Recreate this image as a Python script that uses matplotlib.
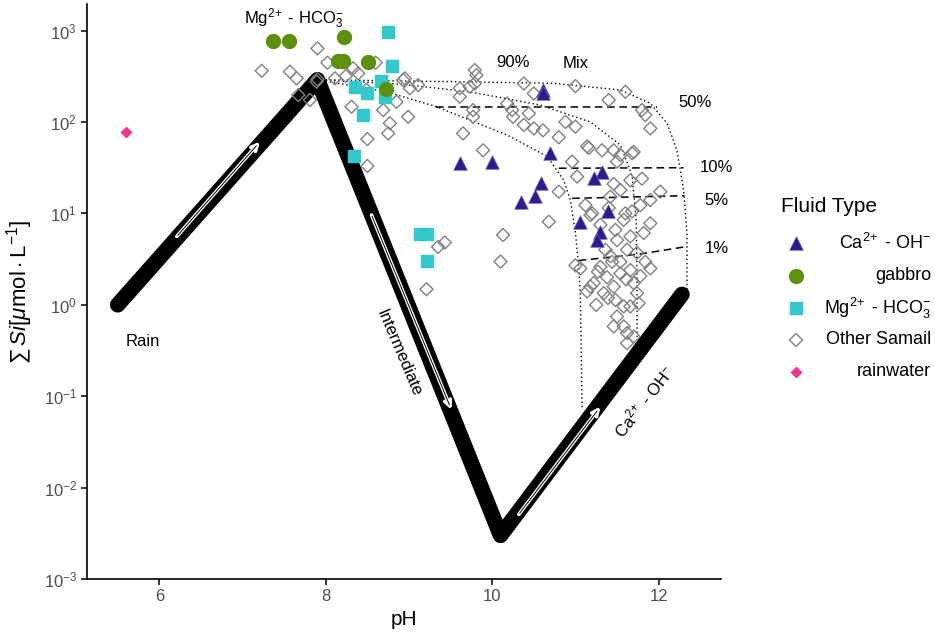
import matplotlib
matplotlib.use("Agg")
import matplotlib.pyplot as plt
from matplotlib.ticker import FixedLocator, NullLocator, LogFormatterSciNotation

plt.rcParams['font.family'] = ['Liberation Sans', 'DejaVu Sans']
plt.rcParams['mathtext.fontset'] = 'custom'
plt.rcParams['mathtext.rm'] = 'Liberation Sans'
plt.rcParams['mathtext.it'] = 'Liberation Sans:italic'
plt.rcParams['mathtext.bf'] = 'Liberation Sans:bold'

# reaction path (thick black line)
path_ph = [5.5, 7.9, 10.1, 12.28]
path_si = [1.0, 290, 0.003, 1.3]

# arrows along the path (tail, head)
arrow_tail_ph = [6.21, 8.55, 10.32]
arrow_tail_si = [5.6, 9.6, 0.0051]
arrow_head_ph = [7.21, 9.51, 11.30]
arrow_head_si = [61, 0.071, 0.077]

# mixing curves (dotted)
mixA_ph = [7.9, 8.73, 9.33, 9.53, 10.18, 10.66, 10.86, 10.94, 11.0, 11.04, 11.06, 11.08]
mixA_si = [290, 214, 147, 124, 72, 42, 23, 14, 6.1, 2.6, 1.13, 0.071]
mixB_ph = [7.9, 8.89, 9.74, 10.58, 11.18, 11.54, 11.68, 11.73, 11.74, 11.74]
mixB_si = [290, 260, 213, 153, 100, 56, 26, 8.5, 1.9, 0.41]
mixC_ph = [7.9, 9.53, 10.74, 11.54, 11.90, 12.10, 12.22, 12.30, 12.34, 12.34]
mixC_si = [290, 276, 265, 224, 160, 97, 49, 18, 6.1, 1.46]

# equal-fraction lines (dashed)
d50_ph = [9.33, 11.98]
d50_si = [147, 147]
d10_ph = [10.80, 12.30]
d10_si = [31.2, 31.6]
d05_ph = [10.96, 12.31]
d05_si = [14.6, 15.6]
d01_ph = [11.04, 11.78, 12.34]
d01_si = [3.05, 3.6, 4.34]

# samples
ca_ph = [10.61, 10.61, 9.61, 10.0, 10.69, 11.32, 11.22, 10.59, 10.51, 10.35, 11.39, 11.05, 11.29, 11.26]
ca_si = [224, 205, 35.9, 36.8, 45.5, 28.6, 24.3, 21.4, 15.5, 13.3, 10.5, 8.1, 6.2, 5.1]

gab_ph = [7.37, 7.56, 8.22, 8.15, 8.21, 8.51, 8.72]
gab_si = [767, 767, 855, 464, 464, 455, 229]

mg_ph = [8.75, 8.79, 8.35, 8.66, 8.49, 8.71, 8.45, 8.34, 9.13, 9.22, 9.22]
mg_si = [955, 412, 240, 283, 205, 190, 119, 42.9, 5.96, 5.96, 3.05]

other_ph = [7.23, 7.57, 7.65, 7.67, 7.81, 7.89, 8.02, 7.90, 7.90, 8.11, 8.24, 8.39, 8.60,
            8.31, 8.49, 8.69, 8.85, 8.77, 8.75, 8.99, 8.50, 8.50, 8.93, 9.01, 9.11, 8.33,
            8.95, 9.73,
            9.61, 9.61, 9.79, 9.81, 9.79, 9.77, 9.77, 9.65, 9.89, 10.18, 10.25, 10.38, 10.50,
            11.0, 11.60, 11.40, 11.80, 11.84, 11.90, 10.24, 10.44, 10.38, 10.50, 10.61, 10.88,
            11.0, 10.80, 11.16, 11.32, 11.54, 11.70, 10.96, 11.50, 11.02, 10.80, 10.68, 10.13,
            10.10, 9.35, 9.43, 9.21, 11.20, 12.02, 11.90, 11.80, 11.66, 11.54, 11.46, 11.42,
            11.68, 11.58, 11.90, 11.82, 11.66, 11.50, 11.62, 11.74, 11.42, 11.90, 11.0, 11.06,
            11.30, 11.38, 11.54, 11.70, 11.22, 11.46, 11.14, 11.34, 11.74, 11.18, 11.58, 11.66,
            11.50, 11.76, 11.46, 11.58, 11.62, 11.70, 11.62, 11.14, 11.46, 11.68,
            11.36, 11.44, 11.54, 11.27, 11.61, 11.39, 11.48, 11.25, 11.66, 11.78, 11.84, 11.30,
            11.48, 11.60, 11.40, 11.78, 11.18, 11.12]
other_si = [363, 355, 300, 197, 174, 276, 445, 638, 293, 300, 318, 340, 445,
            147, 224, 135, 166, 97, 75, 114, 65, 33, 288, 234, 253, 387,
            300, 243,
            234, 189, 370, 325, 264, 135, 114, 75, 49, 159, 114, 264, 205,
            247, 214, 174, 135, 119, 85, 135, 124, 93, 85, 81, 100,
            89, 68, 52, 49, 43.5, 47, 36.8, 36.8, 25.3, 17.3, 8.1, 5.8,
            2.97, 4.3, 4.8, 1.48, 10, 17.3, 14, 24, 23, 18, 21, 15.2,
            10.5, 8.5, 7.8, 6.1, 5.6, 5.1, 4.0, 3.7, 3.4, 2.5, 2.7, 2.5,
            2.6, 2.0, 2.2, 1.73, 1.73, 1.58, 1.4, 1.34, 1.34, 1.58, 0.96, 0.96,
            0.745, 1.04, 0.58, 0.58, 0.49, 0.45, 0.38, 54, 49, 45.5,
            4.0, 2.95, 2.95, 2.3, 1.9, 1.19, 1.13, 1.0, 2.4, 2.07, 2.95, 7.5,
            6.6, 10, 11.5, 12.3, 9.6, 12.3]

rain_ph = [5.60]
rain_si = [78]

CA_LABEL = r'Ca$^{2\!+}$ - OH$^{-}$'
MG_LABEL = r'Mg$^{2\!+}$ - HCO$_3^{-}$'

fig = plt.figure(figsize=(9.35, 6.36), dpi=100)
ax = fig.add_axes([0.0934, 0.0896, 0.6778, 0.904])

ax.plot(path_ph, path_si, color='black', lw=11.2, solid_capstyle='round',
        solid_joinstyle='round', zorder=2)

for i in range(3):
    ax.annotate('', xy=(arrow_head_ph[i], arrow_head_si[i]),
                xytext=(arrow_tail_ph[i], arrow_tail_si[i]),
                arrowprops=dict(arrowstyle='->,head_length=0.45,head_width=0.22',
                                color='white', lw=2.6, shrinkA=0, shrinkB=0),
                zorder=3)
    ax.annotate('', xy=(arrow_head_ph[i], arrow_head_si[i]),
                xytext=(arrow_tail_ph[i], arrow_tail_si[i]),
                arrowprops=dict(arrowstyle='-', color='black', lw=0.7,
                                shrinkA=1, shrinkB=4),
                zorder=4)

for xs, ys in [(mixA_ph, mixA_si), (mixB_ph, mixB_si), (mixC_ph, mixC_si)]:
    ax.plot(xs, ys, color='black', lw=1.0, ls=(0, (1, 2)), zorder=1)
for xs, ys in [(d50_ph, d50_si), (d10_ph, d10_si), (d05_ph, d05_si), (d01_ph, d01_si)]:
    ax.plot(xs, ys, color='black', lw=1.1, ls=(0, (5, 3)), zorder=1)

ax.scatter(other_ph, other_si, marker='D', s=44, facecolors='none',
           edgecolors='#808080', linewidths=1.0, zorder=5)
ax.scatter(mg_ph, mg_si, marker='s', s=74, color='#33c9cc', zorder=6)
ax.scatter(gab_ph, gab_si, marker='o', s=100, color='#5e9010', zorder=6)
ax.scatter(ca_ph, ca_si, marker='^', s=95, color='#2c1a8f', edgecolors='#6c5fb5',
           linewidths=0.5, zorder=7)
ax.scatter(rain_ph, rain_si, marker='D', s=26, color='#f5328f', zorder=6)

# labels on the plot
ax.text(5.80, 0.40, 'Rain', ha='center', va='center', fontsize=12)
ax.text(8.88, 0.30, 'Intermediate', ha='center', va='center', fontsize=12, rotation=-67)
ax.text(11.82, 0.088, CA_LABEL, ha='center', va='center', fontsize=12, rotation=52)
ax.text(7.61, 1350, MG_LABEL, ha='center', va='center', fontsize=12)
ax.text(10.25, 445, '90%', ha='center', va='center', fontsize=12)
ax.text(11.0, 441, 'Mix', ha='center', va='center', fontsize=12)
ax.text(12.44, 163, '50%', ha='center', va='center', fontsize=12)
ax.text(12.69, 31.4, '10%', ha='center', va='center', fontsize=12)
ax.text(12.70, 13.8, '5%', ha='center', va='center', fontsize=12)
ax.text(12.70, 4.1, '1%', ha='center', va='center', fontsize=12)

ax.set_xlim(5.135, 12.75)
ax.set_yscale('log')
ax.set_ylim(1e-3, 1950)
ax.xaxis.set_major_locator(FixedLocator([6, 8, 10, 12]))
ax.yaxis.set_major_locator(FixedLocator([1e-3, 1e-2, 1e-1, 1, 10, 100, 1000]))
ax.yaxis.set_major_formatter(LogFormatterSciNotation())
ax.yaxis.set_minor_locator(NullLocator())

for side in ['top', 'right']:
    ax.spines[side].set_visible(False)
for side in ['left', 'bottom']:
    ax.spines[side].set_linewidth(1.2)
ax.tick_params(axis='both', length=4, width=1.1, labelsize=12, labelcolor='#4d4d4d')

ax.set_xlabel('pH', fontsize=15)
ax.set_ylabel(r'$\sum\,Si[\mu\mathrm{mol}\cdot\mathrm{L}^{-1}]$', fontsize=16, labelpad=6)

# legend, drawn by hand so the labels can be right aligned
lax = fig.add_axes([0, 0, 1, 1], zorder=-1)
lax.set_xlim(0, 935)
lax.set_ylim(636, 0)
lax.axis('off')
lax.text(781, 207, 'Fluid Type', ha='left', va='center', fontsize=15)
leg_labels = [CA_LABEL, 'gabbro', MG_LABEL, 'Other Samail', 'rainwater']
leg_y = [243, 276, 308, 340, 372]
lax.scatter([796], [leg_y[0]], marker='^', s=95, color='#2c1a8f', edgecolors='#6c5fb5', linewidths=0.5)
lax.scatter([796], [leg_y[1]], marker='o', s=100, color='#5e9010')
lax.scatter([796], [leg_y[2]], marker='s', s=74, color='#33c9cc')
lax.scatter([796], [leg_y[3]], marker='D', s=44, facecolors='none', edgecolors='#808080', linewidths=1.0)
lax.scatter([796], [leg_y[4]], marker='D', s=26, color='#f5328f')
for lab, yy in zip(leg_labels, leg_y):
    lax.text(931, yy, lab, ha='right', va='center', fontsize=13)

fig.savefig('out.png', dpi=100)
